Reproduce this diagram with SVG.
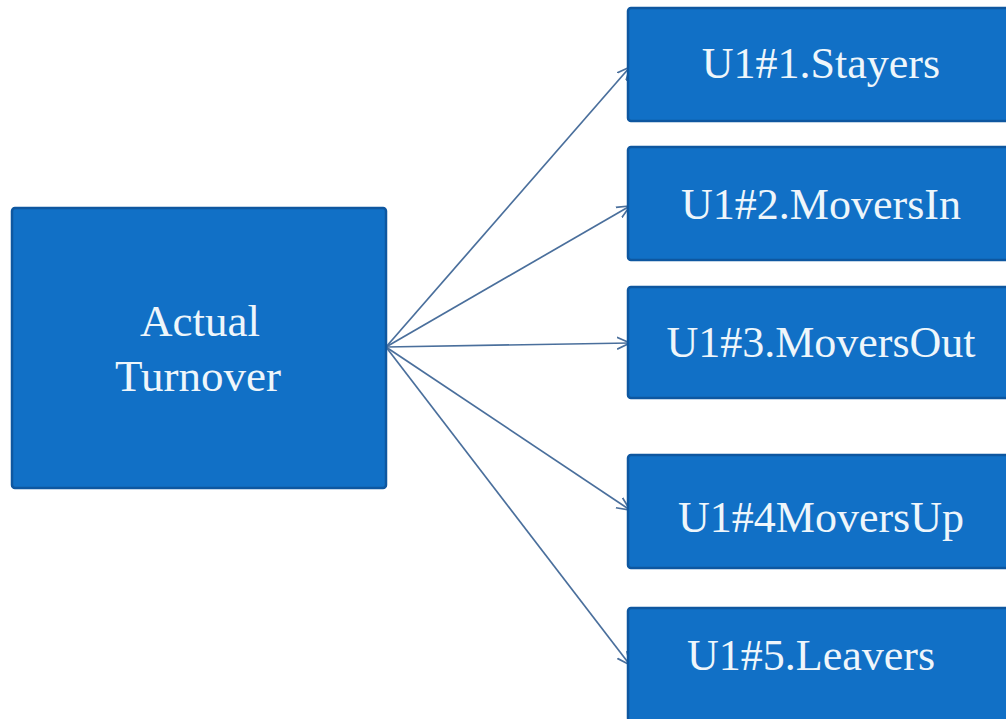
<svg xmlns="http://www.w3.org/2000/svg" width="1006" height="719" viewBox="0 0 1006 719">
<defs>
<style>
.box{fill:#1170c6;stroke:#0e57a0;stroke-width:2.5}
.lbl{font-family:"Liberation Serif",serif;fill:#eef6fb;text-anchor:middle}
.big{font-size:44px}
.left{font-size:45px}
.edge{fill:none;stroke:#4a6f9c;stroke-width:1.7}
</style>
<marker id="arr" viewBox="0 0 14 14" refX="13" refY="7" markerWidth="14" markerHeight="14" markerUnits="userSpaceOnUse" orient="auto">
<path d="M0,1 L13,7 L0,13" fill="none" stroke="#4a6f9c" stroke-width="1.7"/>
</marker>
</defs>
<rect width="1006" height="719" fill="#ffffff"/>
<g id="connectors">
<line class="edge" x1="386" y1="347" x2="630" y2="67" marker-end="url(#arr)"/>
<line class="edge" x1="386" y1="347" x2="630" y2="206" marker-end="url(#arr)"/>
<line class="edge" x1="386" y1="347" x2="630" y2="343" marker-end="url(#arr)"/>
<line class="edge" x1="386" y1="347" x2="630" y2="510" marker-end="url(#arr)"/>
<line class="edge" x1="386" y1="347" x2="630" y2="665" marker-end="url(#arr)"/>
</g>
<g id="actual-turnover">
<rect class="box" x="12" y="208" width="374" height="280" rx="3"/>
<text class="lbl left" x="200" y="336">Actual</text>
<text class="lbl left" x="198" y="391">Turnover</text>
</g>
<g id="stayers">
<rect class="box" x="628" y="8" width="400" height="113" rx="3"/>
<text class="lbl big" x="821" y="78">U1#1.Stayers</text>
</g>
<g id="movers-in">
<rect class="box" x="628" y="147" width="400" height="113" rx="3"/>
<text class="lbl big" x="821" y="219">U1#2.MoversIn</text>
</g>
<g id="movers-out">
<rect class="box" x="628" y="287" width="400" height="111" rx="3"/>
<text class="lbl big" x="821" y="357">U1#3.MoversOut</text>
</g>
<g id="movers-up">
<rect class="box" x="628" y="455" width="400" height="113" rx="3"/>
<text class="lbl big" x="821" y="532">U1#4MoversUp</text>
</g>
<g id="leavers">
<rect class="box" x="628" y="608" width="400" height="113" rx="3"/>
<text class="lbl big" x="811" y="670">U1#5.Leavers</text>
</g>
</svg>
